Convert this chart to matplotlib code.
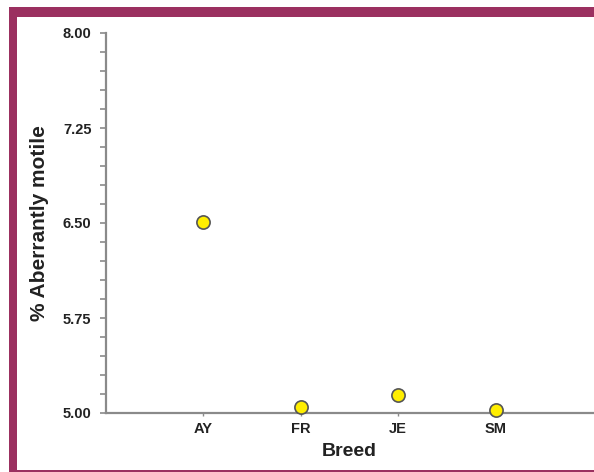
import matplotlib
matplotlib.use("Agg")
import numpy as np
import matplotlib.pyplot as plt
from matplotlib.patches import Rectangle
from matplotlib.ticker import FixedLocator

breeds = ["AY", "FR", "JE", "SM"]
aberrant_motile = [6.51, 5.05, 5.14, 5.02]
y_ticks = [5.00, 5.75, 6.50, 7.25, 8.00]

W, H = 594, 472
fig = plt.figure(figsize=(W / 100, H / 100), dpi=100)
fig.patch.set_facecolor("white")

border = "#9b3060"
# frame bands: top, left and a thin bottom rule
fig.patches.append(Rectangle((9 / W, 1 - 17 / H), 1 - 9 / W, 10 / H,
                             transform=fig.transFigure, color=border, lw=0))
fig.patches.append(Rectangle((9 / W, 1 - 472 / H), 8 / W, (472 - 7) / H,
                             transform=fig.transFigure, color=border, lw=0))
fig.patches.append(Rectangle((9 / W, 1 - 472 / H), 1 - 9 / W, 2 / H,
                             transform=fig.transFigure, color=border, lw=0))

ax = fig.add_axes([106 / W, 1 - 413 / H, (593 - 106) / W, (413 - 33) / H])
ax.set_facecolor("none")

x = list(range(1, len(breeds) + 1))
ax.plot(x, aberrant_motile, linestyle="none", marker="o", markersize=9.5,
        markerfacecolor="#ffee00", markeredgecolor="#555555",
        markeredgewidth=1.2, clip_on=False, zorder=5)

ax.set_xlim(0, 5)
ax.set_ylim(5.0, 8.0)

for s in ("top", "right"):
    ax.spines[s].set_visible(False)
for s in ("left", "bottom"):
    ax.spines[s].set_color("#8a8a8a")
    ax.spines[s].set_linewidth(1.6)

ax.set_xticks(x)
ax.set_xticklabels(breeds)
ax.yaxis.set_major_locator(FixedLocator(y_ticks))
# four minor divisions between each pair of labelled ticks
minor = []
for lo, hi in zip(y_ticks[:-1], y_ticks[1:]):
    minor.extend(np.linspace(lo, hi, 6)[1:-1])
ax.yaxis.set_minor_locator(FixedLocator(minor))
ax.set_yticklabels([f"{v:.2f}" for v in y_ticks])

font = dict(family="Liberation Sans", weight="bold")
for lab in ax.get_xticklabels() + ax.get_yticklabels():
    lab.set_fontfamily("Liberation Sans")
    lab.set_fontweight("bold")
    lab.set_fontsize(10.5)
    lab.set_color("#222222")

ax.tick_params(axis="y", which="both", direction="out", length=4.5,
               width=1.2, color="#8a8a8a", pad=6)
ax.tick_params(axis="x", which="major", direction="out", length=2.5,
               width=1.0, color="#8a8a8a", pad=4)

ax.set_xlabel("Breed", fontsize=14, color="#222222", labelpad=5, **font)
ax.set_ylabel("% Aberrantly motile", fontsize=15, color="#222222",
              labelpad=10, **font)

fig.savefig("out.png", dpi=100)
